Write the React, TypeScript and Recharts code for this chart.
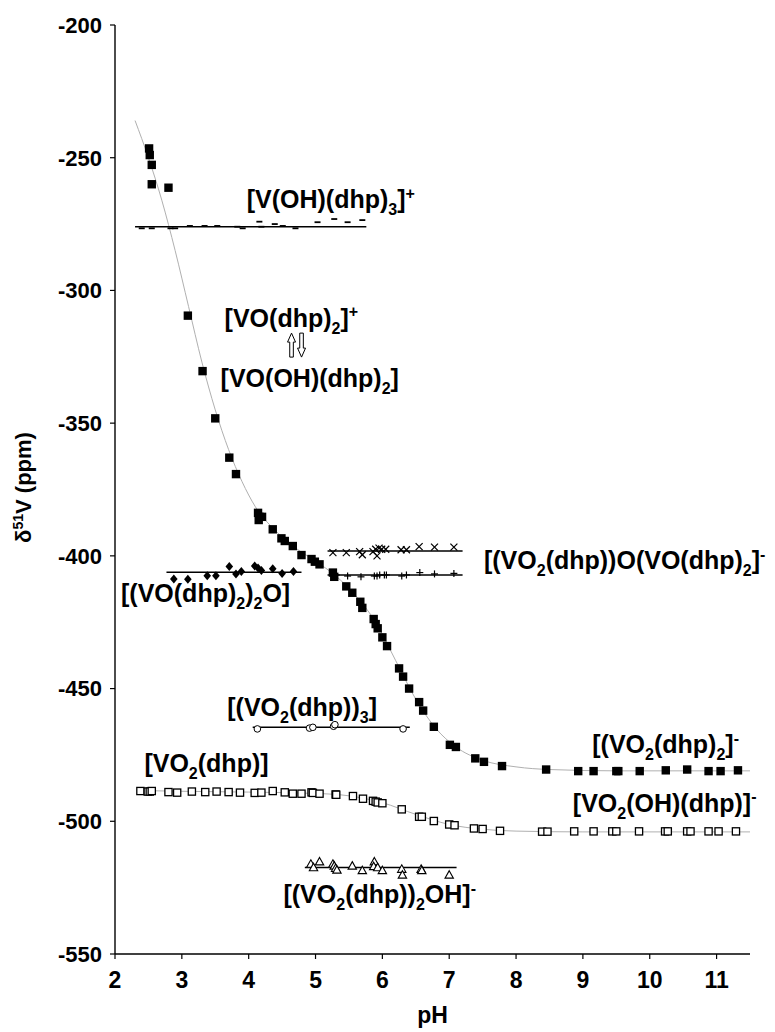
import React from 'react';
import { ComposedChart, XAxis, YAxis, Scatter, Line, ReferenceDot } from 'recharts';

const FONT = '"Liberation Sans", Arial, Helvetica, sans-serif';

const xTicks = [2, 3, 4, 5, 6, 7, 8, 9, 10, 11];
const yTicks = [-550, -500, -450, -400, -350, -300, -250, -200];

// [VO(dhp)2]+ / [VO(OH)(dhp)2] / [VO2(dhp)2]- (filled squares)
const filledSquarePts: [number, number][] = [
  [2.51, -246.5], [2.52, -249], [2.55, -252.7], [2.55, -260], [2.8, -261.3],
  [3.09, -309.5], [3.31, -330.4], [3.5, -348.2], [3.71, -363], [3.81, -369.2],
  [4.14, -383.8], [4.16, -385.3], [4.2, -385.3], [4.15, -386.5], [4.36, -390],
  [4.49, -393.4], [4.54, -394.4], [4.66, -396.3], [4.79, -399.7], [4.94, -401.2],
  [4.99, -402.2], [5.06, -403.2], [5.26, -406.3], [5.28, -407.9], [5.46, -411.5],
  [5.55, -413.9], [5.67, -417.3], [5.7, -419.6], [5.87, -423.8], [5.9, -425.7],
  [5.93, -427.3], [6.0, -430.7], [6.07, -434], [6.25, -442.4], [6.31, -445.5],
  [6.4, -450], [6.55, -455.1], [6.61, -458.3], [6.77, -464.4], [7.01, -471.2],
  [7.1, -472], [7.39, -476.3], [7.52, -477.6], [7.79, -479.2], [8.45, -480.5],
  [8.93, -481.1], [9.16, -481.1], [9.5, -481.1], [9.53, -481.1], [9.85, -481.1],
  [10.24, -480.8], [10.56, -480.5], [10.88, -481.1], [11.06, -481.1], [11.32, -480.8],
];
const filledCurve: [number, number][] = [
  [2.3, -236], [2.5, -250], [2.7, -266], [2.9, -285], [3.1, -306], [3.3, -327],
  [3.5, -345], [3.7, -360], [3.9, -372], [4.1, -381.5], [4.4, -390.5], [4.7, -397],
  [5.0, -402], [5.3, -407.5], [5.6, -415], [5.9, -425], [6.2, -439.5], [6.5, -454],
  [6.8, -465], [7.1, -472], [7.5, -477], [8.0, -479.5], [8.5, -480.5], [9.5, -481],
  [11.5, -481],
];

// [VO2(dhp)] / [VO2(OH)(dhp)]- (open squares)
const openSquarePts: [number, number][] = [
  [2.38, -488.6], [2.49, -488.8], [2.52, -488.8], [2.55, -488.6], [2.8, -489],
  [2.93, -489.2], [3.15, -488.8], [3.35, -489], [3.52, -488.8], [3.7, -489],
  [3.87, -489.2], [4.09, -489.3], [4.19, -489.2], [4.36, -488.6], [4.54, -489.1],
  [4.66, -489.6], [4.79, -489.6], [4.94, -489.1], [4.96, -489.3], [5.06, -489.6],
  [5.3, -489.9], [5.31, -490], [5.56, -490.5], [5.71, -491.5], [5.86, -492.3],
  [5.9, -492.6], [5.93, -492.9], [6.0, -493.2], [6.29, -495.5], [6.55, -498.3],
  [6.59, -498.3], [6.77, -499.9], [7.0, -501.2], [7.08, -501.5], [7.37, -502.7],
  [7.5, -502.9], [7.76, -503.6], [8.39, -503.9], [8.47, -503.9], [8.87, -503.8],
  [9.16, -503.8], [9.44, -503.8], [9.5, -503.8], [9.84, -503.8], [10.23, -503.8],
  [10.27, -503.8], [10.56, -503.8], [10.61, -503.8], [10.88, -503.8], [11.03, -503.8],
  [11.29, -503.8],
];
const openCurve: [number, number][] = [
  [2.35, -488.4], [3.0, -488.7], [4.0, -489], [5.0, -489.5], [5.5, -490.4],
  [6.0, -493], [6.5, -497.4], [7.0, -501.2], [7.5, -503], [8.0, -503.7],
  [9.0, -504], [11.5, -504],
];

// [V(OH)(dhp)3]+ (dashes)
const dashPts: [number, number][] = [
  [2.4, -276.6], [2.55, -276.6], [2.83, -276.6], [2.9, -276.6], [3.12, -275.7],
  [3.34, -275.7], [3.53, -275.7], [3.83, -276], [3.91, -276.6], [4.16, -274.1],
  [4.19, -276], [4.39, -275], [4.51, -275.7], [4.7, -276.6], [5.03, -274.3],
  [5.28, -273.1], [5.48, -274.3], [5.7, -273.5],
];
const dashFit: [number, number][] = [[2.3, -276], [5.76, -276]];

// [(VO(dhp)2)2O] (diamonds)
const diamondPts: [number, number][] = [
  [2.88, -408.7], [3.09, -408.8], [3.38, -407.5], [3.51, -407.5], [3.71, -404],
  [3.81, -406.8], [3.89, -405.9], [4.09, -403.8], [4.14, -404.6], [4.19, -405.5],
  [4.36, -404.9], [4.5, -406.6], [4.67, -405.9],
];
const diamondFit: [number, number][] = [[2.77, -406.2], [4.79, -406.2]];

// [(VO2(dhp))O(VO(dhp)2]- (crosses and pluses)
const crossPts: [number, number][] = [
  [5.26, -398.8], [5.46, -398.8], [5.66, -398.4], [5.7, -399.6], [5.86, -398.4],
  [5.9, -397.5], [5.92, -400], [5.95, -397.1], [5.99, -397.5], [6.05, -397.5],
  [6.28, -397.7], [6.36, -397.7], [6.55, -396.5], [6.78, -396.7], [7.07, -396.7],
];
const crossFit: [number, number][] = [[5.18, -398.2], [7.2, -398.2]];
const plusPts: [number, number][] = [
  [5.26, -406.6], [5.31, -407.2], [5.48, -407.6], [5.68, -407.9], [5.88, -407.6],
  [5.92, -407.6], [5.96, -407.2], [6.03, -407.2], [6.06, -407.2], [6.29, -407.6],
  [6.36, -407.2], [6.56, -406.3], [6.78, -406.8], [7.07, -406.6],
];
const plusFit: [number, number][] = [[5.18, -407.2], [7.2, -407.2]];

// [(VO2(dhp))3] (open circles)
const circlePts: [number, number][] = [
  [4.13, -465.2], [4.91, -464.9], [4.96, -464.6], [5.27, -464.2], [5.29, -463.6], [6.31, -465.2],
];
const circleFit: [number, number][] = [[4.06, -464.6], [6.41, -464.6]];

// [(VO2(dhp))2OH]- (open triangles)
const trianglePts: [number, number][] = [
  [4.93, -516.2], [4.97, -517.5], [5.06, -515.3], [5.26, -516.2], [5.28, -516.9],
  [5.3, -517.8], [5.32, -518.4], [5.55, -516.9], [5.7, -518.6], [5.88, -515.3],
  [5.87, -517.1], [5.93, -517.5], [6.0, -518.6], [6.29, -518.1], [6.3, -520.3],
  [6.58, -518.1], [6.59, -518.6], [7.0, -520.3],
];
const triangleFit: [number, number][] = [[4.84, -517.4], [7.11, -517.4]];

// Species labels: text (with _ = subscript next char, ^ = superscript next char), pH at left edge, ppm at baseline
const labelTexts = [
  '[V(OH)(dhp)_3]^+',
  '[VO(dhp)_2]^+',
  '[VO(OH)(dhp)_2]',
  '[(VO(dhp)_2)_2O]',
  '[(VO_2(dhp))O(VO(dhp)_2]^-',
  '[(VO_2(dhp))_3]',
  '[(VO_2(dhp)_2]^-',
  '[VO_2(dhp)]',
  '[VO_2(OH)(dhp)]^-',
  '[(VO_2(dhp))_2OH]^-',
];
const labelPH = [3.97, 3.64, 3.58, 2.09, 7.52, 3.68, 9.14, 2.44, 8.85, 4.52];
const labelPPM = [-269.0, -313.7, -336.4, -417.4, -405.0, -460.4, -474.3, -481.5, -496.5, -530.8];
const arrowPH = 4.716;
const arrowPPM = -320.6;

const toXY = (pts: [number, number][]) => pts.map(([x, y]) => ({ x, y }));

const LABEL_SIZE = 25;

function RichText({ x, y, text, size, anchor = 'start', rotate = false }: any) {
  const segs: { t: string; k: number }[] = [];
  let i = 0;
  while (i < text.length) {
    const c = text[i];
    if ((c === '_' || c === '^') && i + 1 < text.length) {
      segs.push({ t: text[i + 1], k: c === '_' ? 1 : -1 });
      i += 2;
    } else {
      if (segs.length && segs[segs.length - 1].k === 0) segs[segs.length - 1].t += c;
      else segs.push({ t: c, k: 0 });
      i += 1;
    }
  }
  let shift = 0;
  const small = Math.round(size * 0.64);
  const children = segs.map((s, idx) => {
    const target = s.k === 1 ? size * 0.28 : s.k === -1 ? -size * 0.38 : 0;
    const dy = target - shift;
    shift = target;
    return (
      <tspan key={idx} dy={dy} fontSize={s.k === 0 ? size : small}>
        {s.t}
      </tspan>
    );
  });
  return (
    <text
      x={x}
      y={y}
      fontFamily={FONT}
      fontWeight="bold"
      fontSize={size}
      fill="#000"
      textAnchor={anchor}
      transform={rotate ? `rotate(-90 ${x} ${y})` : undefined}
    >
      {children}
    </text>
  );
}

const filledSquare = (p: any) => <rect x={p.cx - 4.2} y={p.cy - 4.2} width={8.4} height={8.4} fill="#000" />;
const openSquare = (p: any) => (
  <rect x={p.cx - 3.6} y={p.cy - 3.6} width={7.2} height={7.2} fill="#fff" stroke="#000" strokeWidth={1.3} />
);
const dashShape = (p: any) => <line x1={p.cx - 3} x2={p.cx + 3} y1={p.cy} y2={p.cy} stroke="#000" strokeWidth={1.8} />;
const diamondShape = (p: any) => (
  <polygon
    points={`${p.cx},${p.cy - 4.5} ${p.cx + 3.8},${p.cy} ${p.cx},${p.cy + 4.5} ${p.cx - 3.8},${p.cy}`}
    fill="#000"
  />
);
const crossShape = (p: any) => (
  <g stroke="#000" strokeWidth={1.2}>
    <line x1={p.cx - 3.5} y1={p.cy - 3.5} x2={p.cx + 3.5} y2={p.cy + 3.5} />
    <line x1={p.cx - 3.5} y1={p.cy + 3.5} x2={p.cx + 3.5} y2={p.cy - 3.5} />
  </g>
);
const plusShape = (p: any) => (
  <g stroke="#000" strokeWidth={1.2}>
    <line x1={p.cx - 3.5} y1={p.cy} x2={p.cx + 3.5} y2={p.cy} />
    <line x1={p.cx} y1={p.cy - 3.5} x2={p.cx} y2={p.cy + 3.5} />
  </g>
);
const circleShape = (p: any) => <circle cx={p.cx} cy={p.cy} r={3.3} fill="#fff" stroke="#000" strokeWidth={1} />;
const triangleShape = (p: any) => (
  <polygon
    points={`${p.cx},${p.cy - 4.5} ${p.cx + 4.2},${p.cy + 3} ${p.cx - 4.2},${p.cy + 3}`}
    fill="#fff"
    stroke="#000"
    strokeWidth={1.1}
  />
);

const ArrowPair = (p: any) => {
  const top = p.cy - 12;
  const bot = p.cy + 12;
  const up = p.cx - 5;
  const dn = p.cx + 5;
  return (
    <g fill="#fff" stroke="#000" strokeWidth={1}>
      <polygon
        points={`${up},${top} ${up + 4},${top + 9} ${up + 1.8},${top + 9} ${up + 1.8},${bot} ${up - 1.8},${bot} ${up - 1.8},${top + 9} ${up - 4},${top + 9}`}
      />
      <polygon
        points={`${dn},${bot} ${dn + 4},${bot - 9} ${dn + 1.8},${bot - 9} ${dn + 1.8},${top} ${dn - 1.8},${top} ${dn - 1.8},${bot - 9} ${dn - 4},${bot - 9}`}
      />
    </g>
  );
};

const fitLine = (pts: [number, number][], key: string) => (
  <Line
    key={key}
    data={toXY(pts)}
    dataKey="y"
    type="linear"
    stroke="#000"
    strokeWidth={1.5}
    dot={false}
    activeDot={false}
    isAnimationActive={false}
    legendType="none"
  />
);

export default function App() {
  return (
    <div style={{ position: 'absolute', left: 0, top: 0, width: 775, height: 1032, background: '#fff' }}>
      <ComposedChart width={775} height={1032} margin={{ top: 25, right: 25, bottom: 28, left: 40 }}>
        <XAxis
          type="number"
          dataKey="x"
          domain={[2, 11.5]}
          ticks={xTicks}
          allowDataOverflow
          height={50}
          tickSize={5}
          tickMargin={13}
          stroke="#000"
          axisLine={{ stroke: '#000', strokeWidth: 1.4 }}
          tickLine={{ stroke: '#000', strokeWidth: 1.2 }}
          tick={{ fontSize: 23, fontWeight: 'bold', fill: '#000', fontFamily: FONT }}
          label={{
            content: (props: any) => {
              const vb = props.viewBox || { x: 115, y: 954, width: 635 };
              return <RichText x={vb.x + vb.width / 2} y={vb.y + 69} text="pH" size={23} anchor="middle" />;
            },
          }}
        />
        <YAxis
          type="number"
          dataKey="y"
          domain={[-550, -200]}
          ticks={yTicks}
          allowDataOverflow
          width={75}
          tickSize={5}
          tickMargin={8}
          stroke="#000"
          axisLine={{ stroke: '#000', strokeWidth: 1.4 }}
          tickLine={{ stroke: '#000', strokeWidth: 1.2 }}
          tick={{ fontSize: 22, fontWeight: 'bold', fill: '#000', fontFamily: FONT }}
          label={{
            content: (props: any) => {
              const vb = props.viewBox || { x: 40, y: 25, height: 929 };
              return (
                <RichText x={vb.x - 9} y={vb.y + vb.height / 2 - 2} text={'δ^5^1V (ppm)'} size={22} anchor="middle" rotate />
              );
            },
          }}
        />
        <Line
          data={toXY(filledCurve)}
          dataKey="y"
          type="monotone"
          stroke="#b0b0b0"
          strokeWidth={1}
          dot={false}
          activeDot={false}
          isAnimationActive={false}
        />
        <Line
          data={toXY(openCurve)}
          dataKey="y"
          type="monotone"
          stroke="#b0b0b0"
          strokeWidth={1}
          dot={false}
          activeDot={false}
          isAnimationActive={false}
        />
        {fitLine(dashFit, 'f1')}
        {fitLine(diamondFit, 'f2')}
        {fitLine(crossFit, 'f3')}
        {fitLine(plusFit, 'f4')}
        {fitLine(circleFit, 'f5')}
        {fitLine(triangleFit, 'f6')}
        <Scatter data={toXY(dashPts)} shape={dashShape} isAnimationActive={false} />
        <Scatter data={toXY(diamondPts)} shape={diamondShape} isAnimationActive={false} />
        <Scatter data={toXY(crossPts)} shape={crossShape} isAnimationActive={false} />
        <Scatter data={toXY(plusPts)} shape={plusShape} isAnimationActive={false} />
        <Scatter data={toXY(circlePts)} shape={circleShape} isAnimationActive={false} />
        <Scatter data={toXY(trianglePts)} shape={triangleShape} isAnimationActive={false} />
        <Scatter data={toXY(openSquarePts)} shape={openSquare} isAnimationActive={false} />
        <Scatter data={toXY(filledSquarePts)} shape={filledSquare} isAnimationActive={false} />
        {labelTexts.map((t, i) => (
          <ReferenceDot
            key={'lab' + i}
            x={labelPH[i]}
            y={labelPPM[i]}
            r={0}
            ifOverflow="visible"
            shape={(p: any) => <RichText x={p.cx} y={p.cy} text={t} size={LABEL_SIZE} />}
          />
        ))}
        <ReferenceDot x={arrowPH} y={arrowPPM} r={0} ifOverflow="visible" shape={(p: any) => <ArrowPair {...p} />} />
      </ComposedChart>
    </div>
  );
}
